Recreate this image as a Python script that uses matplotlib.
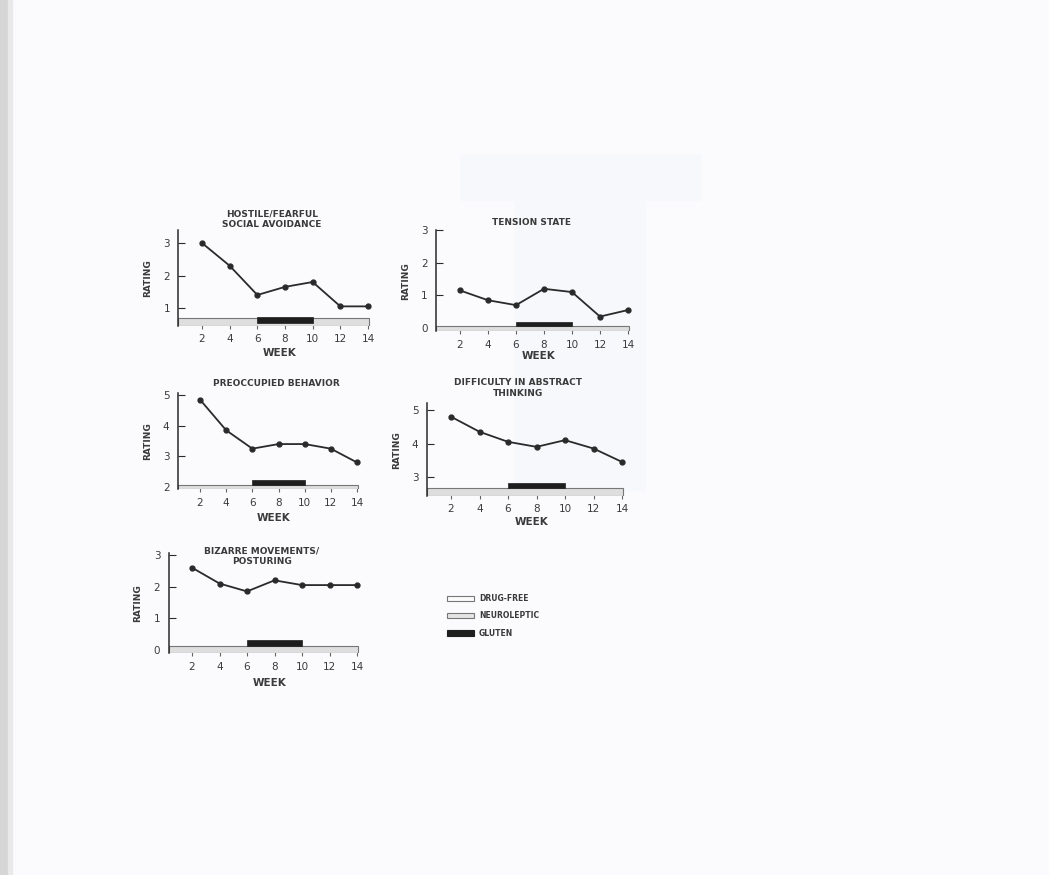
import numpy as np
import matplotlib.pyplot as plt
from matplotlib.patches import Rectangle, Patch

W, H = 1049, 875

weeks = [2, 4, 6, 8, 10, 12, 14]
hostile = [3.0, 2.3, 1.4, 1.65, 1.8, 1.05, 1.05]
tension = [1.15, 0.85, 0.7, 1.2, 1.1, 0.35, 0.55]
preocc = [4.85, 3.85, 3.25, 3.4, 3.4, 3.25, 2.8]
abstract = [4.8, 4.35, 4.05, 3.9, 4.1, 3.85, 3.45]
bizarre = [2.6, 2.1, 1.85, 2.2, 2.05, 2.05, 2.05]

titles = ["HOSTILE/FEARFUL\nSOCIAL AVOIDANCE", "TENSION STATE",
          "PREOCCUPIED BEHAVIOR", "DIFFICULTY IN ABSTRACT\nTHINKING",
          "BIZARRE MOVEMENTS/\nPOSTURING"]
yticks = [[1, 2, 3], [0, 1, 2, 3], [2, 3, 4, 5], [3, 4, 5], [0, 1, 2, 3]]
gluten = (6, 10)
legend_labels = ["DRUG-FREE", "NEUROLEPTIC", "GLUTEN"]

ink = '#2a2a2a'
txt = '#3a3a3a'

fig = plt.figure(figsize=(W / 100, H / 100), dpi=100, facecolor='#fbfbfd')
# scanned page edge + faint smudge
fig.patches.append(Rectangle((0, 0), 8 / W, 1, transform=fig.transFigure,
                             color='#d6d6d6', zorder=-5))
fig.patches.append(Rectangle((8 / W, 0), 4 / W, 1, transform=fig.transFigure,
                             color='#e9e9e9', zorder=-5))
fig.patches.append(Rectangle((515 / W, 1 - 490 / H), 130 / W, 290 / H,
                             transform=fig.transFigure, color='#f6f8fb', zorder=-4))
fig.patches.append(Rectangle((460 / W, 1 - 200 / H), 240 / W, 45 / H,
                             transform=fig.transFigure, color='#f6f8fb', zorder=-4))


def fx(p):
    return p / W


def fy(p):
    return 1 - p / H


# x2, x14, (v_hi, pix_hi), (v_lo, pix_lo), ylim, strip, glut bar, title xy, week y
geo = [
    (202, 368, (3, 243), (1, 308), (0.45, 3.4), (0.45, 0.69), (0.55, 0.72), (272, 219), 353),
    (460, 628, (3, 230), (0, 328), (-0.1, 3.0), (-0.08, 0.06), (0.06, 0.18), (532, 222), 356),
    (200, 357, (5, 395), (2, 487), (1.92, 5.05), (1.92, 2.08), (2.08, 2.24), (276, 383), 518),
    (451, 622, (5, 410), (3, 477), (2.43, 5.2), (2.43, 2.67), (2.67, 2.82), (518, 388), 522),
    (192, 357, (3, 555), (0, 650), (-0.1, 3.05), (-0.08, 0.14), (0.14, 0.3), (262, 556), 683),
]
series = [hostile, tension, preocc, abstract, bizarre]
xlim = (0.3, 14.4)

for k in range(5):
    x2, x14, (vh, ph), (vl, pl), ylim, strip, glut, tpos, wy = geo[k]
    sx = (x14 - x2) / 12.0
    sy = (pl - ph) / float(vh - vl)
    left = x2 + (xlim[0] - 2) * sx
    right = x2 + (xlim[1] - 2) * sx
    top = ph - (ylim[1] - vh) * sy
    bottom = pl + (vl - ylim[0]) * sy
    ax = fig.add_axes([fx(left), fy(bottom), (right - left) / W, (bottom - top) / H])
    ax.set_facecolor('none')
    ax.set_xlim(xlim)
    ax.set_ylim(ylim)
    ax.plot(weeks, series[k], color=ink, lw=1.3, marker='o', ms=3.5, zorder=3)
    ax.add_patch(Rectangle((xlim[0], strip[0]), 14.1 - xlim[0], strip[1] - strip[0],
                           facecolor='#dedede', edgecolor='#777777', lw=0.8, zorder=2))
    ax.add_patch(Rectangle((gluten[0], glut[0]), gluten[1] - gluten[0], glut[1] - glut[0],
                           facecolor='#1e1e1e', edgecolor='#1e1e1e', lw=0.5, zorder=2))
    for s in ['top', 'right', 'bottom']:
        ax.spines[s].set_visible(False)
    ax.spines['left'].set_color(ink)
    ax.spines['left'].set_linewidth(1.1)
    ax.set_yticks(yticks[k])
    ax.set_xticks(weeks)
    ax.tick_params(axis='y', direction='in', length=5, width=0.8, colors=ink,
                   labelsize=7.5, labelcolor=txt, pad=6)
    ax.tick_params(axis='x', direction='inout', length=4, width=0.8, colors='#666666',
                   labelsize=7.5, labelcolor=txt, pad=4)
    ax.set_ylabel('RATING', fontsize=6.5, color=txt, labelpad=8, fontweight='bold')
    fig.text(fx((left + right) / 2 + 4), fy(wy), 'WEEK', fontsize=7.5, color=txt,
             ha='center', va='center', fontweight='bold')
    fig.text(fx(tpos[0]), fy(tpos[1]), titles[k], fontsize=6.5, color=txt,
             ha='center', va='center', linespacing=1.25, fontweight='bold')

handles = [Patch(facecolor='#fbfbfb', edgecolor='#777777', lw=0.8),
           Patch(facecolor='#e4e4e4', edgecolor='#777777', lw=0.8),
           Patch(facecolor='#1e1e1e', edgecolor='#1e1e1e', lw=0.8)]
fig.legend(handles, legend_labels, loc='upper left',
           bbox_to_anchor=(fx(440), fy(587)), frameon=False,
           prop={'size': 5.5, 'weight': 'bold'},
           handlelength=3.6, handleheight=0.7, labelspacing=1.1, handletextpad=0.6,
           labelcolor=txt)

fig.savefig('out.png', dpi=100, facecolor=fig.get_facecolor())
